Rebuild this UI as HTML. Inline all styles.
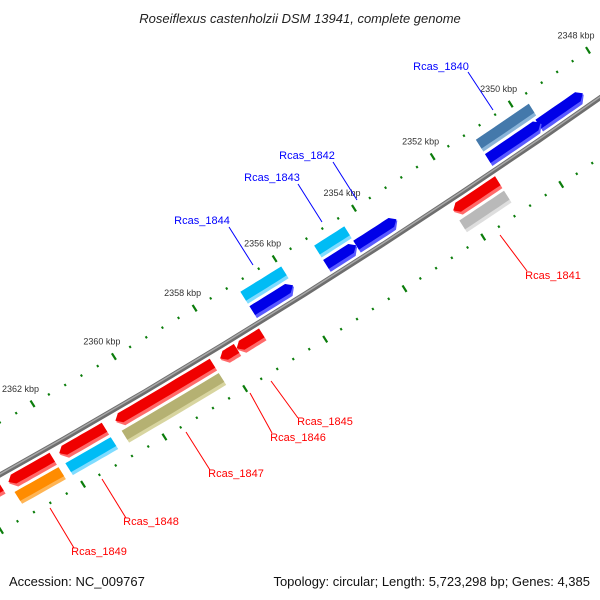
<!DOCTYPE html>
<html><head><meta charset="utf-8"><style>
body{margin:0;background:#fff}
svg{display:block}
text{font-family:"Liberation Sans",sans-serif}
</style></head><body>
<svg id="map" width="600" height="600" viewBox="0 0 600 600" xmlns="http://www.w3.org/2000/svg">
<text x="300" y="23" text-anchor="middle" font-size="13" font-style="italic" fill="#222">Roseiflexus castenholzii DSM 13941, complete genome</text>
<g id="ticks"></g>
<g id="backbone"></g>
<g id="genes"></g>
<g id="labels"></g>
<text x="9" y="586" font-size="13" fill="#111">Accession: NC_009767</text>
<text x="590" y="586" text-anchor="end" font-size="13" fill="#111">Topology: circular; Length: 5,723,298 bp; Genes: 4,385</text>
</svg>
<script>
// gene data (kbp)
const geneNames = ["Rcas_1839","Rcas_1840","Rcas_1842","Rcas_1843","Rcas_1844","Rcas_1841","Rcas_1845","Rcas_1846","Rcas_1847","Rcas_1848","Rcas_1849","Rcas_1850"];
const geneStart = [2348.58,2349.67,2353.36,2354.38,2355.97,2351.10,2357.07,2357.70,2358.30,2360.97,2362.25,2363.50];
const geneEnd   = [2349.73,2351.03,2354.38,2355.14,2356.99,2352.24,2357.70,2358.11,2360.70,2362.08,2363.32,2364.60];
const geneStrand= [1,1,1,1,1,-1,-1,-1,-1,-1,-1,-1];
const geneCog   = ["none","steelblue","none","cyan","cyan","gray","none","none","olive","cyan","orange","none"];
const tickMajorLabels = [2348,2350,2352,2354,2356,2358,2360,2362];

const NS="http://www.w3.org/2000/svg";
const A=[0,475], d=[0.8467,-0.5320], n=[-0.5320,-0.8467], L=708.6, SAG=9;
function uOf(bp){return 629.8-(bp-2350)*47.03;}
function pt(u,v){const t=u/L;const vv=v-4*SAG*t*(1-t);return [A[0]+u*d[0]+n[0]*vv, A[1]+u*d[1]+n[1]*vv];}
function mk(tag,attrs,parent){const e=document.createElementNS(NS,tag);for(const k in attrs)e.setAttribute(k,attrs[k]);parent.appendChild(e);return e;}
function arc(u1,u2,v){const p=[];const N=8;for(let i=0;i<=N;i++){p.push(pt(u1+(u2-u1)*i/N,v));}return p;}
function ps(p){return p.map(q=>q[0].toFixed(1)+","+q[1].toFixed(1)).join(" ");}

// backbone
const bb=document.getElementById('backbone');
const b1=mk('polyline',{points:ps(arc(-20,L+20,0)),fill:'none',stroke:'#6e6e6e','stroke-width':5},bb);


const b2=mk('polyline',{points:ps(arc(-20,L+20,0.8)),fill:'none',stroke:'#a8a8a8','stroke-width':1.5},bb);



// ticks
const tg=document.getElementById('ticks');
for(let k=0;k<=50;k++){
  const bp=2346+k*0.4;
  const major=Math.abs(bp/2-Math.round(bp/2))<0.01;
  const u=uOf(bp);
  [46,-49].forEach(v0=>{
    const len=major?3.8:1.2;
    const p1=pt(u,v0+len),p2=pt(u,v0-len);
    const l=mk('line',{x1:p1[0],y1:p1[1],x2:p2[0],y2:p2[1],stroke:'#0b7d0b','stroke-width':major?2.2:2},tg);
    
    
  });
}
tickMajorLabels.forEach(bp=>{
  const p=pt(uOf(bp),46);
  const t=mk('text',{x:p[0]-12,y:p[1]-12,'text-anchor':'middle','font-size':9,fill:'#333'},tg);
  t.textContent=bp+" kbp";
  
  
});

// genes
const colors={blue:["#0000e8","#5a5aff"],red:["#f00000","#ff6a6a"],steelblue:["#4479ab","#8ab4d8"],cyan:["#00bcf5","#7fdcff"],gray:["#b9b9b9","#dedede"],olive:["#b5b172","#d8d5a0"],orange:["#ff8c00","#ffb555"]};
const gg=document.getElementById('genes');
function shape(u1,u2,v0,v1,dir){
  const h=6;let pts=[];
  if(dir===1){pts=arc(u1,u2-h,v1).concat([pt(u2,(v0+v1)/2)],arc(u2-h,u1,v0));}
  else if(dir===-1){pts=arc(u1+h,u2,v1).concat(arc(u2,u1+h,v0),[pt(u1,(v0+v1)/2)]);}
  else{pts=arc(u1,u2,v1).concat(arc(u2,u1,v0));}
  return ps(pts);
}
function drawFeat(u1,u2,v0,v1,dir,col,name){
  const g=mk('g',{},gg);
  
  
  mk('polygon',{points:shape(u1,u2,v0,v1,dir),fill:col[1]},g);
  mk('polygon',{points:shape(u1,u2,v0+3.5,v1,dir),fill:col[0]},g);
}
for(let i=0;i<geneNames.length;i++){
  const ua=uOf(geneEnd[i]),ub=uOf(geneStart[i]);
  const s=geneStrand[i];
  const base=geneNames[i].toLowerCase().replace('_','-');
  if(s>0){
    drawFeat(ua,ub,5,19,1,colors.blue,base+'-arrow');
    if(geneCog[i]!=="none")drawFeat(ua,ub,22,36,0,colors[geneCog[i]],base+'-cog');
  }else{
    drawFeat(ua,ub,-19,-5,-1,colors.red,base+'-arrow');
    if(geneCog[i]!=="none")drawFeat(ua,ub,-36,-22,0,colors[geneCog[i]],base+'-cog');
  }
}

// labels
const labelData=[
 ["Rcas_1840",441,70,468,72,493,110,"#0000ff"],
 ["Rcas_1842",307,159,333,162,357,200,"#0000ff"],
 ["Rcas_1843",272,181,298,184,322,222,"#0000ff"],
 ["Rcas_1844",202,224,229,227,253,265,"#0000ff"],
 ["Rcas_1841",553,279,527,271,500,235,"#ff0000"],
 ["Rcas_1845",325,425,298,418,271,381,"#ff0000"],
 ["Rcas_1846",298,441,272,433,250,393,"#ff0000"],
 ["Rcas_1847",236,477,210,470,186,432,"#ff0000"],
 ["Rcas_1848",151,525,126,518,102,479,"#ff0000"],
 ["Rcas_1849",99,555,74,548,50,508,"#ff0000"]
];
const lg=document.getElementById('labels');
labelData.forEach(r=>{
  const l=mk('line',{x1:r[3],y1:r[4],x2:r[5],y2:r[6],stroke:r[7],'stroke-width':1},lg);
  
  
  const t=mk('text',{x:r[1],y:r[2],'text-anchor':'middle','font-size':11,fill:r[7]},lg);
  t.textContent=r[0];
  
  
});
</script>
</body></html>
